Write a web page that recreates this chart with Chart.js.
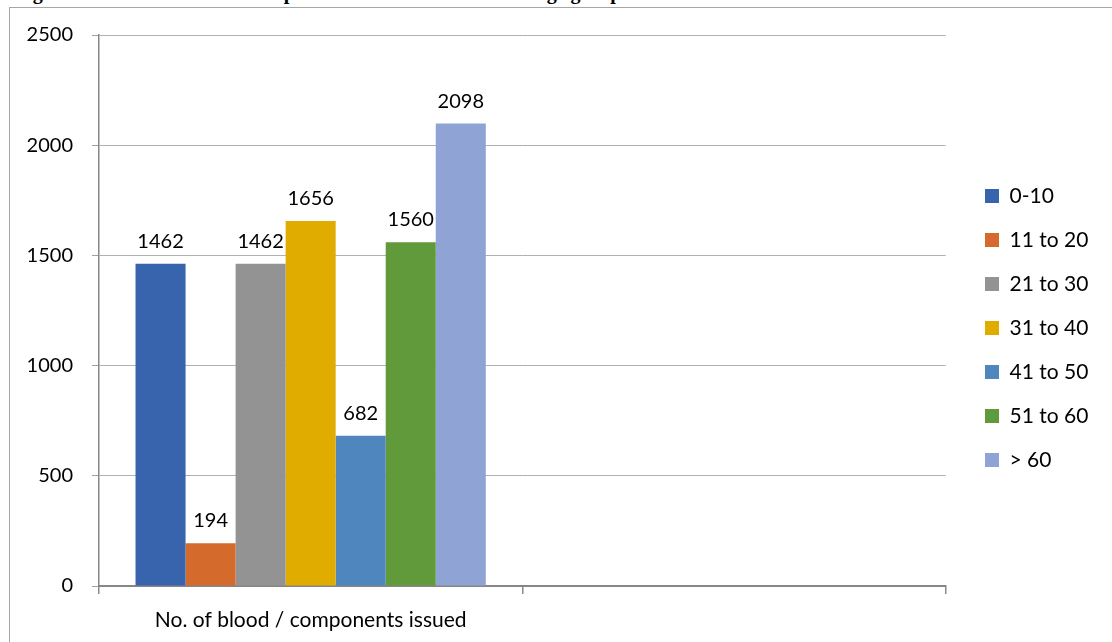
<!DOCTYPE html>
<html>
<head>
<meta charset="utf-8">
<script src="https://cdn.jsdelivr.net/npm/chart.js@4"></script>
<style>
  html, body { margin: 0; padding: 0; background: #fff; overflow: hidden; }
  #frame { position: absolute; left: 9px; top: 7px; width: 1200px; height: 700px;
           border-left: 1px solid #a6a6a6; border-top: 1px solid #a6a6a6; }
  #title { position: absolute; left: 15px; top: -18px; font: bold 20px/20px "Liberation Serif", serif;
           color: #000; white-space: nowrap; }
  #chart { position: absolute; left: 0; top: 0; }
</style>
</head>
<body>
<div id="title">Figure 1: Number of blood components issued under various age groups</div>
<div id="frame"></div>
<canvas id="chart" width="1112" height="642"></canvas>
<script>
// categories on the x axis (second one is empty in the original)
const categories = ["No. of blood / components issued", ""];

// age groups and their counts
const ageGroups = ["0-10", "11 to 20", "21 to 30", "31 to 40", "41 to 50", "51 to 60", "> 60"];
const issued = [1462, 194, 1462, 1656, 682, 1560, 2098];
const groupColors = ["#3863ad", "#d46b2c", "#939393", "#e0ac00", "#4f86bd", "#609a3a", "#8fa3d4"];

const yTicks = [0, 500, 1000, 1500, 2000, 2500];

const FONT = "Lato";

const datasets = ageGroups.map((g, i) => ({
  label: g,
  data: [issued[i], null],
  backgroundColor: groupColors[i],
  borderWidth: 0,
  categoryPercentage: 350 / 423,
  barPercentage: 1,
}));

// value labels above the bars
const barValues = {
  id: "barValues",
  afterDatasetsDraw(chart) {
    const ctx = chart.ctx;
    ctx.save();
    ctx.font = "20px " + FONT;
    ctx.fillStyle = "#000";
    ctx.textAlign = "center";
    ctx.textBaseline = "alphabetic";
    chart.data.datasets.forEach((ds, i) => {
      const meta = chart.getDatasetMeta(i);
      meta.data.forEach((bar, j) => {
        if (ds.data[j] == null) return;
        ctx.fillText(String(ds.data[j]), bar.x, bar.y - 16);
      });
    });
    ctx.restore();
  }
};

// nudge the legend to where Excel put it
const legendPlace = {
  id: "legendPlace",
  afterLayout(chart) {
    const lg = chart.legend;
    const dx = 986 - (lg.left + 24);
    lg.left += dx; lg.right += dx;
    const dy = (656 - (lg.top + lg.bottom)) / 2;
    lg.top += dy; lg.bottom += dy;
  }
};

new Chart(document.getElementById("chart"), {
  type: "bar",
  data: { labels: categories, datasets: datasets },
  plugins: [barValues, legendPlace],
  options: {
    responsive: false,
    animation: false,
    layout: { padding: { top: 35, left: 0, right: 30, bottom: 0 } },
    plugins: {
      tooltip: { enabled: false },
      legend: {
        position: "right",
        labels: {
          boxWidth: 14,
          boxHeight: 14,
          padding: 23,
          color: "#000",
          font: { family: FONT, size: 21 },
        },
      },
    },
    scales: {
      x: {
        afterFit(s) { s.height = 56; },
        grid: { drawOnChartArea: false, drawTicks: true, tickLength: 8, color: "#8a8a8a", lineWidth: 1.5 },
        border: { color: "#868686", width: 2 },
        ticks: { color: "#000", padding: 14, font: { family: FONT, size: 21 }, maxRotation: 0 },
      },
      y: {
        min: 0,
        max: 2500,
        afterFit(s) { s.width = 99; },
        afterBuildTicks(s) { s.ticks = yTicks.map(v => ({ value: v })); },
        grid: { color: "#b0b0b0", lineWidth: 1, tickLength: 7, tickColor: "#a0a0a0" },
        border: { color: "#868686", width: 1.5 },
        ticks: { color: "#000", padding: 19, font: { family: FONT, size: 20 }, callback: v => String(v) },
      },
    },
  },
});
</script>
</body>
</html>
